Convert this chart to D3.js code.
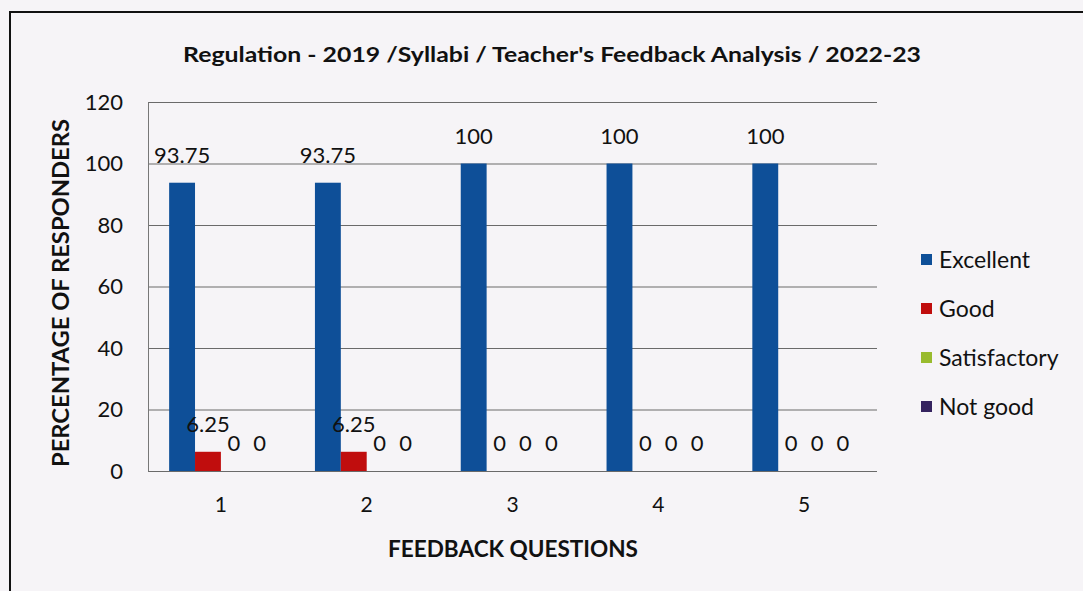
<!DOCTYPE html>
<html>
<head>
<meta charset="utf-8">
<script src="https://cdn.jsdelivr.net/npm/d3@7"></script>
<style>
  body { margin: 0; background: #f6f4f7; }
  svg { display: block; font-family: Lato, "Open Sans", sans-serif; }
</style>
</head>
<body>
<svg id="chart"></svg>
<script>
// chart data
const questions = ["1", "2", "3", "4", "5"];
const seriesNames = ["Excellent", "Good", "Satisfactory", "Not good"];
const excellent = [93.75, 93.75, 100, 100, 100];
const good = [6.25, 6.25, 0, 0, 0];
const satisfactory = [0, 0, 0, 0, 0];
const notGood = [0, 0, 0, 0, 0];
const yTicks = [0, 20, 40, 60, 80, 100, 120];
const colors = ["#0e4f98", "#c00d0d", "#99bb2e", "#35235f"];

const width = 1083;
const height = 591;
const plot = { left: 148, right: 877, top: 102, bottom: 471 };

const svg = d3.select("#chart").attr("width", width).attr("height", height);

// outer frame
svg.append("rect")
  .attr("x", 10).attr("y", 12)
  .attr("width", width + 10).attr("height", height + 10)
  .attr("fill", "none")
  .attr("stroke", "#111")
  .attr("stroke-width", 2);

// scales
const xScale = d3.scaleBand()
  .domain(questions)
  .range([plot.left, plot.right])
  .paddingInner(0.29).paddingOuter(0.145);
const xSub = d3.scaleBand()
  .domain(seriesNames)
  .range([0, xScale.bandwidth()]);
const yScale = d3.scaleLinear()
  .domain([0, 120])
  .range([plot.bottom, plot.top]);

// grid lines
svg.append("g")
  .attr("transform", `translate(${plot.left},0)`)
  .call(d3.axisLeft(yScale).tickValues(yTicks).tickSize(-(plot.right - plot.left)).tickFormat(""))
  .call(g => g.select(".domain").remove())
  .call(g => g.selectAll("line").attr("stroke", "#6a6a6a").attr("stroke-width", 1.2));

// y axis
svg.append("g")
  .attr("transform", `translate(${plot.left},0)`)
  .call(d3.axisLeft(yScale).tickValues(yTicks).tickSize(0).tickPadding(25))
  .call(g => g.select(".domain").attr("stroke", "#777"))
  .call(g => g.selectAll("text").attr("font-size", 22).attr("fill", "#111").attr("font-family", "Lato, sans-serif"));

// x axis
svg.append("g")
  .attr("transform", `translate(0,${plot.bottom})`)
  .call(d3.axisBottom(xScale).tickSize(0).tickPadding(26))
  .call(g => g.select(".domain").remove())
  .call(g => g.selectAll("text").attr("font-size", 21).attr("fill", "#111").attr("font-family", "Lato, sans-serif"));

// bars
const series = [excellent, good, satisfactory, notGood];
series.forEach((values, si) => {
  const name = seriesNames[si];
  const g = svg.append("g");
  g.selectAll("rect")
    .data(values)
    .enter()
    .append("rect")
    .attr("x", (d, i) => xScale(questions[i]) + xSub(name))
    .attr("y", d => yScale(d))
    .attr("width", xSub.bandwidth())
    .attr("height", d => plot.bottom - yScale(d))
    .attr("fill", colors[si]);

  // data labels
  g.selectAll("text")
    .data(values)
    .enter()
    .append("text")
    .attr("x", (d, i) => xScale(questions[i]) + xSub(name) + xSub.bandwidth() / 2)
    .attr("y", d => yScale(d) - 20)
    .attr("text-anchor", "middle")
    .attr("font-size", 22)
    .attr("fill", "#111")
    .text(d => d);
});

// title
svg.append("text")
  .attr("x", 552).attr("y", 62)
  .attr("text-anchor", "middle")
  .attr("font-size", 20)
  .attr("font-weight", "bold")
  .attr("fill", "#111")
  .attr("textLength", 738)
  .attr("lengthAdjust", "spacingAndGlyphs")
  .text("Regulation - 2019 /Syllabi / Teacher's Feedback Analysis / 2022-23");

// axis titles
svg.append("text")
  .attr("transform", `translate(69,293) rotate(-90)`)
  .attr("text-anchor", "middle")
  .attr("font-size", 22)
  .attr("font-weight", "bold")
  .attr("fill", "#111")
  .attr("textLength", 348)
  .attr("lengthAdjust", "spacingAndGlyphs")
  .text("PERCENTAGE OF RESPONDERS");

svg.append("text")
  .attr("x", 513).attr("y", 557)
  .attr("text-anchor", "middle")
  .attr("font-size", 22)
  .attr("font-weight", "bold")
  .attr("fill", "#111")
  .attr("textLength", 250)
  .attr("lengthAdjust", "spacingAndGlyphs")
  .text("FEEDBACK QUESTIONS");

// legend
const legend = svg.append("g").attr("transform", "translate(921,260)");
seriesNames.forEach((name, i) => {
  const row = legend.append("g").attr("transform", `translate(0,${i * 49})`);
  row.append("rect")
    .attr("x", 0).attr("y", -6)
    .attr("width", 11).attr("height", 11)
    .attr("fill", colors[i]);
  row.append("text")
    .attr("x", 18).attr("y", 8)
    .attr("font-size", 23)
    .attr("fill", "#111")
    .text(name);
});
</script>
</body>
</html>
